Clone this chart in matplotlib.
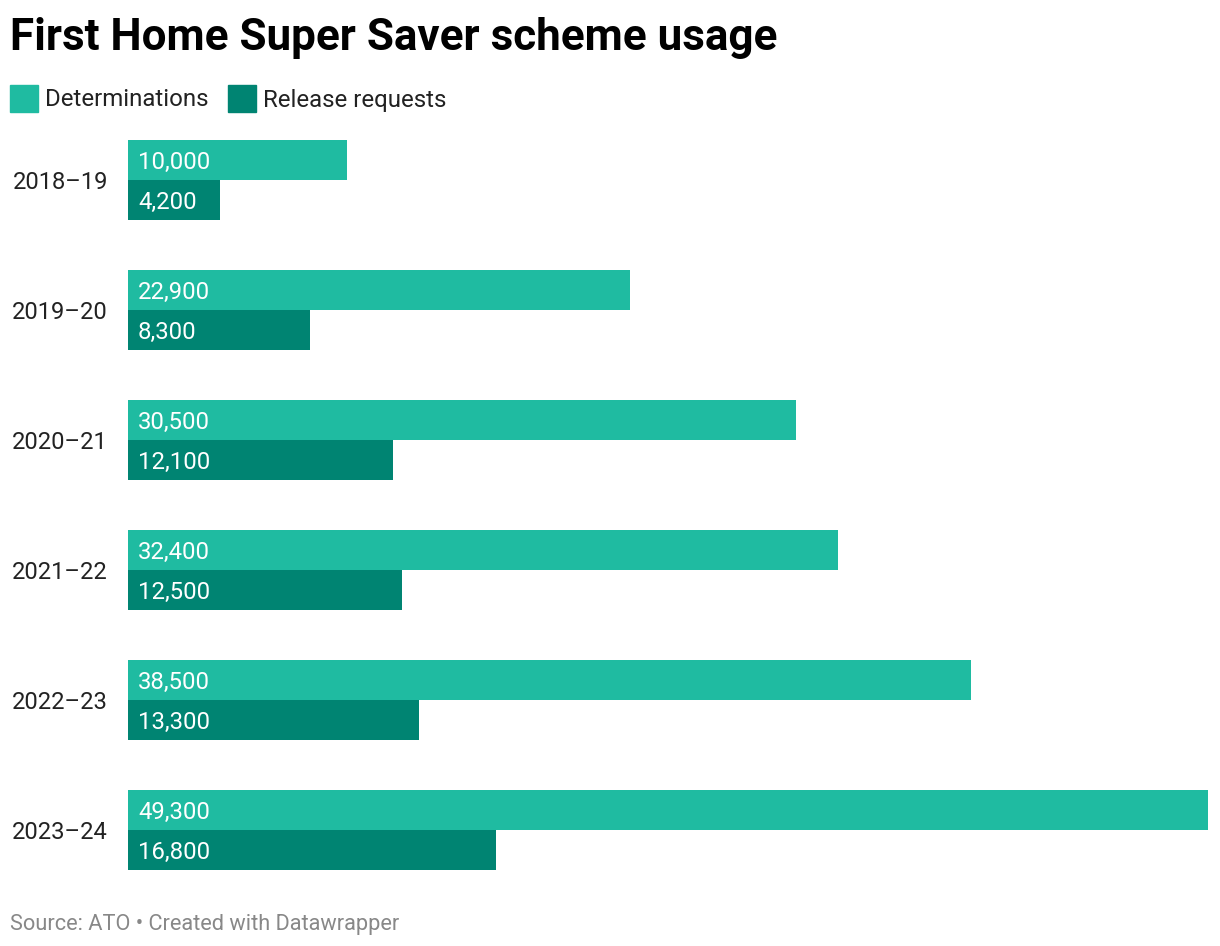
import numpy as np
import matplotlib.pyplot as plt
from matplotlib.patches import Rectangle
from matplotlib.transforms import offset_copy

plt.rcParams["font.family"] = ["Roboto", "DejaVu Sans"]

# Daten
years = ["2018–19", "2019–20", "2020–21", "2021–22", "2022–23", "2023–24"]
determinations = [10000, 22900, 30500, 32400, 38500, 49300]
release_requests = [4200, 8300, 12100, 12500, 13300, 16800]
series_names = ["Determinations", "Release requests"]

c_light = "#1fbba1"
c_dark = "#008472"

W, H = 1220, 946
fig = plt.figure(figsize=(W / 100, H / 100), dpi=100)

# Achse in Pixelkoordinaten platzieren
left, right, top, bottom = 128, 1208, 140, 870
ax = fig.add_axes([left / W, 1 - bottom / H, (right - left) / W, (bottom - top) / H])

bh = 40 / 130
y = np.arange(len(years))
ax.barh(y - bh / 2, determinations, height=bh, color=c_light)
ax.barh(y + bh / 2, release_requests, height=bh, color=c_dark)

# Wertelabels ca. 10 px innerhalb des Balkens, etwas nach unten geschoben
xoff = max(determinations) * 10 / (right - left)
tr = offset_copy(ax.transData, fig=fig, x=0, y=-2, units="dots")
for yi, v in zip(y, determinations):
    ax.text(xoff, yi - bh / 2, f"{v:,}", color="white", fontsize=17.2,
            va="center", ha="left", transform=tr)
for yi, v in zip(y, release_requests):
    ax.text(xoff, yi + bh / 2, f"{v:,}", color="white", fontsize=17.2,
            va="center", ha="left", transform=tr)

ax.set_xlim(0, max(determinations))
ax.set_ylim(len(years) - 1 + bh, -bh)
ax.set_xticks([])
ax.set_yticks(y)
ax.set_yticklabels(years, fontsize=17.1, color="#222222")
ax.tick_params(axis="y", length=0, pad=14.4)
for s in ax.spines.values():
    s.set_visible(False)

# Titel
fig.text(10 / W, 1 - 38 / H, "First Home Super Saver scheme usage",
         fontsize=31.7, fontweight="bold", va="center", ha="left", color="black")

# Legende manuell
leg_x = [10, 228]
for lx, name, c in zip(leg_x, series_names, [c_light, c_dark]):
    fig.patches.append(Rectangle((lx / W, 1 - 112 / H), 28 / W, 27 / H,
                                 transform=fig.transFigure, color=c))
    fig.text((lx + 35) / W, 1 - 100 / H, name, fontsize=17.3, va="center",
             ha="left", color="#222222")

# Quelle
fig.text(10 / W, 1 - 924 / H, "Source: ATO • Created with Datawrapper",
         fontsize=15.7, color="#888888", va="center", ha="left")

fig.savefig("out.png", dpi=100)
